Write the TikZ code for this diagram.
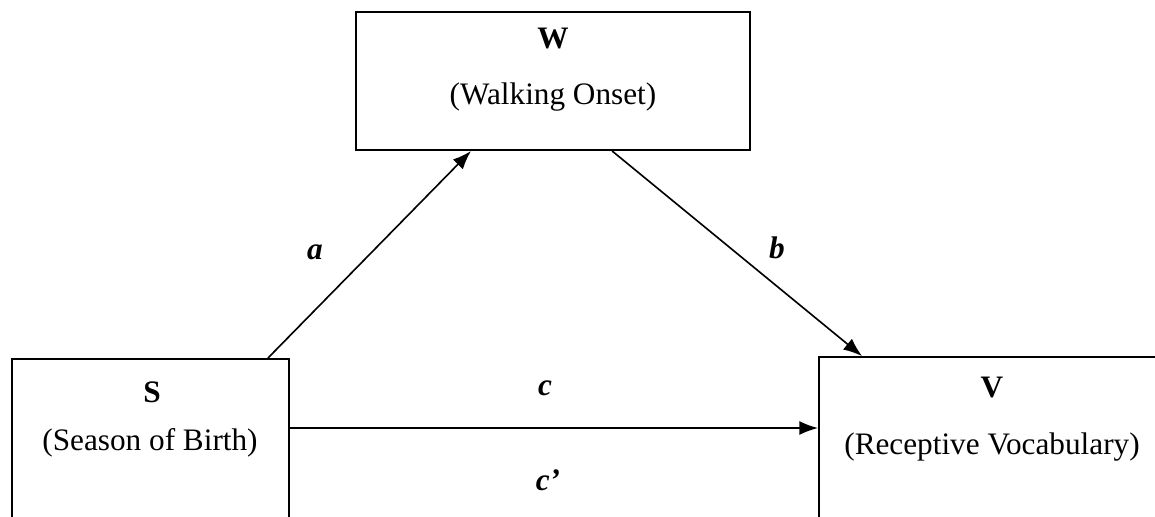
\documentclass[tikz,border=0pt]{standalone}
\usepackage{fontspec}
\setmainfont{Liberation Serif}
\usetikzlibrary{arrows.meta,calc}
\begin{document}
\begin{tikzpicture}[x=0.4pt,y=-0.4pt,
  box/.style={draw, line width=0.75pt, rectangle, inner sep=0pt},
  txt/.style={inner sep=0pt, font=\fontsize{12.5}{14}\selectfont},
  lbl/.style={inner sep=0pt, font=\fontsize{12.5}{14}\selectfont\bfseries\itshape},
  conn/.style={line width=0.65pt, -{Latex[length=7.5pt,width=5.6pt]}}]
\useasboundingbox (0,0) rectangle (1155,516);
\clip (0,0) rectangle (1155,516);
% boxes
\node[box, minimum width=157.6pt, minimum height=55.2pt] (W) at (553,81) {};
\node[box, minimum width=110.8pt, minimum height=72.4pt] (S) at (150.5,449.5) {};
\node[box, minimum width=138.4pt, minimum height=73.2pt] (V) at (992,448.5) {};
% texts
\node[txt] (Wt) at (553,38) {\textbf{W}};
\node[txt] (Wd) at (553,97) {(Walking Onset)};
\node[txt] (St) at (152,392) {\textbf{S}};
\node[txt] (Sd) at (150,443) {(Season of Birth)};
\node[txt] (Vt) at (992,387) {\textbf{V}};
\node[txt] (Vd) at (992,447) {(Receptive Vocabulary)};
% connectors
\draw[conn] ($(S.north east)+(-22,0)$) -- ($(W.south west)+(116,0)$);
\draw[conn] ($(W.south west)+(257,0)$) -- ($(V.north west)+(44,0)$);
\draw[conn] (S.east |- 0,428) -- (V.west |- 0,428);
% labels
\node[lbl] (la) at (315,252) {a};
\node[lbl] (lb) at (777,248) {b};
\node[lbl] (lc) at (545,388) {c};
\node[lbl] (lc2) at (548,480) {c’};
\end{tikzpicture}
\end{document}
